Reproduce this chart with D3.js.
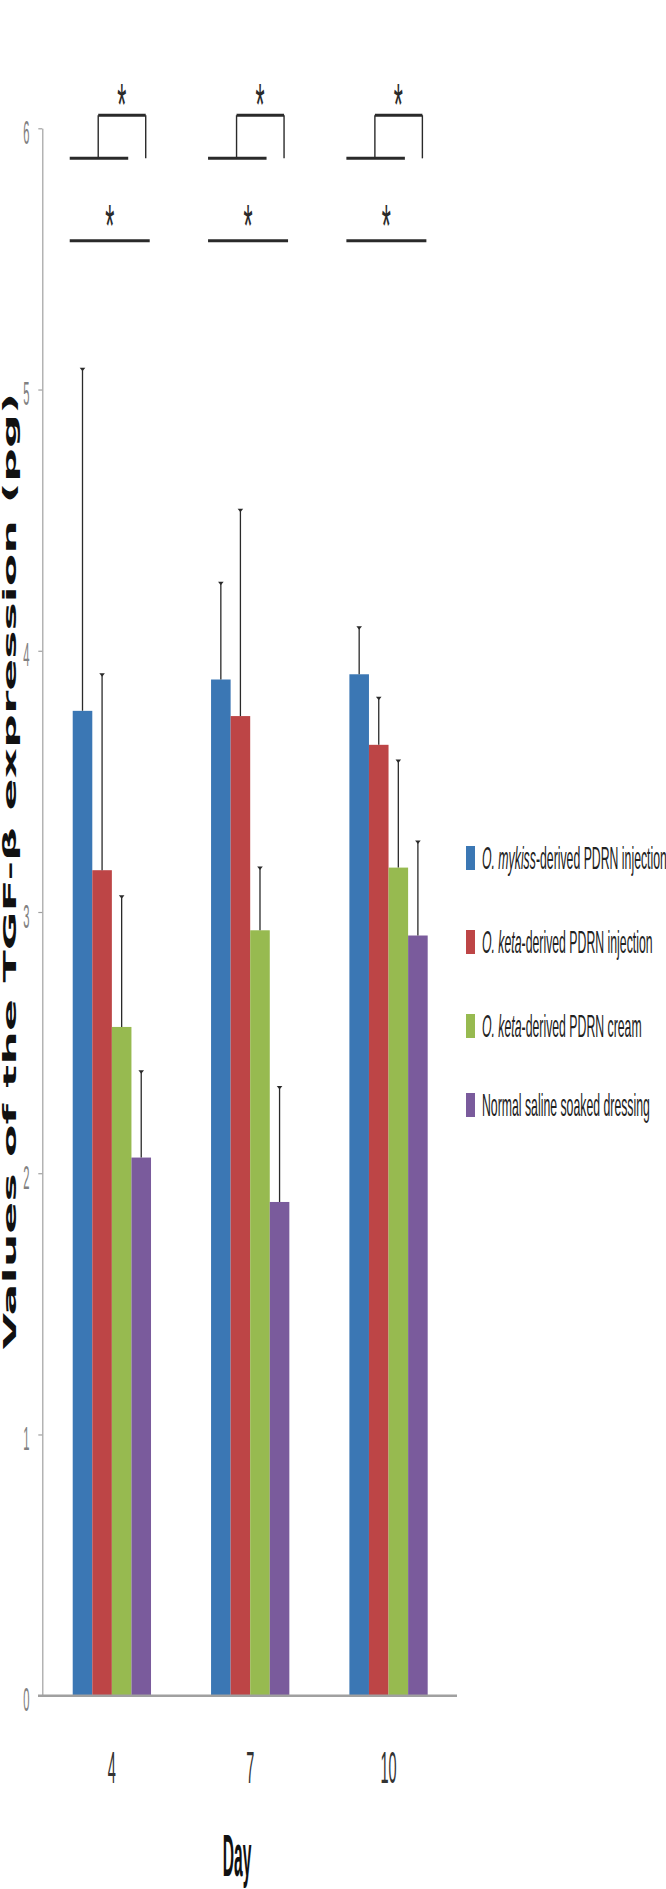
<!DOCTYPE html>
<html>
<head>
<meta charset="utf-8">
<script src="https://cdn.jsdelivr.net/npm/d3@7/dist/d3.min.js"></script>
<style>
  html, body { margin: 0; padding: 0; background: #ffffff; }
  svg { display: block; }
</style>
</head>
<body>
<svg id="chart" width="666" height="1889"></svg>
<script>
// ---------- data ----------
const days = ["4", "7", "10"];
const seriesKeys = ["mykissInj", "ketaInj", "ketaCream", "saline"];
const legendItalic = ["O. mykiss", "O. keta", "O. keta", ""];
const legendRest = ["-derived PDRN injection", "-derived PDRN injection", "-derived PDRN cream", "Normal saline soaked dressing"];
const colors = ["#3b77b4", "#bd4546", "#97ba50", "#7a5b9c"];

const mykissInj = [3.77, 3.89, 3.91];
const ketaInj   = [3.16, 3.75, 3.64];
const ketaCream = [2.56, 2.93, 3.17];
const saline    = [2.06, 1.89, 2.91];

const mykissInjErr = [1.31, 0.37, 0.18];
const ketaInjErr   = [0.75, 0.79, 0.18];
const ketaCreamErr = [0.50, 0.24, 0.41];
const salineErr    = [0.33, 0.44, 0.36];

const yTicks = [0, 1, 2, 3, 4, 5, 6];
const yTitle = "Values of the TGF-\u03B2 expression (pg)";
const xTitle = "Day";
const sigMark = "*";

// ---------- build ----------
const means = [mykissInj, ketaInj, ketaCream, saline];
const errs = [mykissInjErr, ketaInjErr, ketaCreamErr, salineErr];
const rows = [];
days.forEach((d, i) => {
  seriesKeys.forEach((k, j) => {
    rows.push({ day: d, key: k, idx: j, value: means[j][i], err: errs[j][i] });
  });
});

const svg = d3.select("#chart");

const y = d3.scaleLinear().domain([0, 6]).range([1695.7, 128.3]);
const x = d3.scaleBand().domain(days).range([42.7, 457.7]).paddingInner(0.434).paddingOuter(0.217);
const xs = d3.scaleBand().domain(seriesKeys).range([0, x.bandwidth()]).padding(0);

// y axis
const yAxis = d3.axisLeft(y).tickValues(yTicks).tickSize(4).tickSizeOuter(0).tickFormat(d3.format("d"));
const gy = svg.append("g").attr("transform", "translate(42.3,0)").call(yAxis);
gy.select(".domain").attr("stroke", "#a0a0a0").attr("stroke-width", 1.2);
gy.selectAll(".tick line").attr("stroke", "#a0a0a0").attr("stroke-width", 1.2);
gy.selectAll(".tick text")
  .attr("x", 0).attr("dy", null)
  .attr("text-anchor", "middle")
  .attr("font-family", "'Liberation Sans', Arial, sans-serif")
  .attr("font-size", 34)
  .attr("fill", "#808080")
  .attr("transform", "translate(-16,15) scale(0.33,1)");

// bars
const groups = svg.append("g").selectAll("g.day")
  .data(days).join("g")
  .attr("class", "day")
  .attr("transform", d => `translate(${x(d)},0)`);

groups.selectAll("rect")
  .data(d => rows.filter(r => r.day === d))
  .join("rect")
  .attr("x", r => xs(r.key))
  .attr("width", xs.bandwidth())
  .attr("y", r => y(r.value))
  .attr("height", r => y(0) - y(r.value))
  .attr("fill", r => colors[r.idx]);

// error bars (upper only)
groups.selectAll("line.err")
  .data(d => rows.filter(r => r.day === d))
  .join("line")
  .attr("class", "err")
  .attr("x1", r => xs(r.key) + xs.bandwidth() / 2)
  .attr("x2", r => xs(r.key) + xs.bandwidth() / 2)
  .attr("y1", r => y(r.value))
  .attr("y2", r => y(r.value + r.err))
  .attr("stroke", "#2a2a2a")
  .attr("stroke-width", 1.3);

groups.selectAll("path.cap")
  .data(d => rows.filter(r => r.day === d))
  .join("path")
  .attr("class", "cap")
  .attr("d", r => {
    const cx = xs(r.key) + xs.bandwidth() / 2, cy = y(r.value + r.err);
    return `M${cx - 2.8},${cy - 1}L${cx + 2.8},${cy - 1}L${cx},${cy + 2.5}Z`;
  })
  .attr("fill", "#2a2a2a");

// x axis baseline
svg.append("line")
  .attr("x1", 38).attr("x2", 457)
  .attr("y1", y(0)).attr("y2", y(0))
  .attr("stroke", "#a0a0a0").attr("stroke-width", 2.6);

// x tick labels
svg.append("g").selectAll("text")
  .data(days).join("text")
  .attr("text-anchor", "middle")
  .attr("font-family", "'Liberation Sans', Arial, sans-serif")
  .attr("font-size", 44)
  .attr("fill", "#333")
  .attr("transform", d => `translate(${x(d) + x.bandwidth() / 2},1783) scale(0.33,1)`)
  .text(d => d);

// x title
svg.append("text")
  .attr("text-anchor", "middle")
  .attr("font-family", "'Liberation Sans', Arial, sans-serif")
  .attr("font-weight", "bold")
  .attr("font-size", 60)
  .attr("fill", "#111")
  .attr("transform", "translate(237,1876) scale(0.26,1)")
  .text(xTitle);

// y title
svg.append("text")
  .attr("text-anchor", "middle")
  .attr("font-family", "'DejaVu Sans', sans-serif")
  .attr("font-weight", "900")
  .attr("font-size", 18)
  .attr("fill", "#111")
  .attr("textLength", 957)
  .attr("lengthAdjust", "spacingAndGlyphs")
  .attr("transform", "translate(16,871) rotate(-90)")
  .text(yTitle);

// significance brackets
const sig = svg.append("g");
days.forEach(d => {
  const s = x(d);
  const ink = "#2a2a2a";
  // lower single line
  sig.append("line").attr("x1", s - 3).attr("x2", s + 77).attr("y1", y(5.57)).attr("y2", y(5.57))
    .attr("stroke", ink).attr("stroke-width", 3);
  // upper bracket
  sig.append("line").attr("x1", s - 3).attr("x2", s + 55.5).attr("y1", y(5.885)).attr("y2", y(5.885))
    .attr("stroke", ink).attr("stroke-width", 3);
  sig.append("line").attr("x1", s + 25.5).attr("x2", s + 73).attr("y1", y(6.05)).attr("y2", y(6.05))
    .attr("stroke", ink).attr("stroke-width", 3);
  sig.append("line").attr("x1", s + 25.5).attr("x2", s + 25.5).attr("y1", y(6.05)).attr("y2", y(5.885))
    .attr("stroke", ink).attr("stroke-width", 1.4);
  sig.append("line").attr("x1", s + 73).attr("x2", s + 73).attr("y1", y(6.05)).attr("y2", y(5.885))
    .attr("stroke", ink).attr("stroke-width", 1.4);
  // asterisks
  [[s + 49, y(6.13)], [s + 37, y(5.67)]].forEach(([ax, ay]) => {
    sig.append("text")
      .attr("text-anchor", "middle")
      .attr("font-family", "'Liberation Sans', Arial, sans-serif")
      .attr("font-size", 60)
      .attr("fill", ink)
      .attr("transform", `translate(${ax},${ay + 31}) scale(0.39,1)`)
      .text(sigMark);
  });
});

// legend
const legendY = [869, 953, 1037, 1116];
const lg = svg.append("g");
seriesKeys.forEach((k, i) => {
  lg.append("rect").attr("x", 466).attr("y", legendY[i] - 23).attr("width", 9).attr("height", 24)
    .attr("fill", colors[i]);
  const t = lg.append("text")
    .attr("font-family", "'Liberation Sans', Arial, sans-serif")
    .attr("font-size", 32)
    .attr("fill", "#222")
    .attr("transform", `translate(482,${legendY[i]}) scale(0.384,1)`);
  if (legendItalic[i]) t.append("tspan").attr("font-style", "italic").text(legendItalic[i]);
  t.append("tspan").text(legendRest[i]);
});
</script>
</body>
</html>
